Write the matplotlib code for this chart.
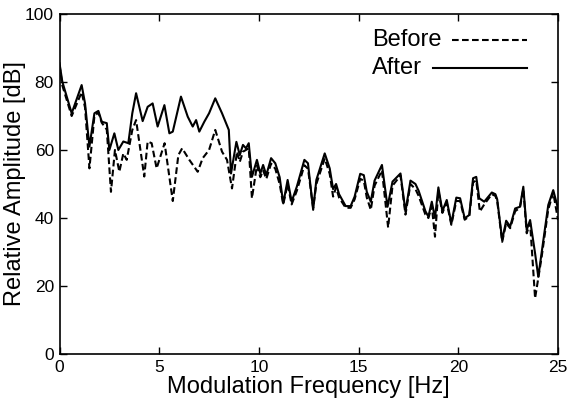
import matplotlib
matplotlib.use("Agg")
import matplotlib.pyplot as plt
from matplotlib.lines import Line2D

plt.rcParams['font.family'] = ['Liberation Sans', 'DejaVu Sans']

# modulation frequency [Hz] / relative amplitude [dB]
freq_after = [0.0, 0.14, 0.61, 1.11, 1.28, 1.50, 1.75, 1.95, 2.12, 2.37, 2.50, 2.75, 2.95,
              3.20, 3.45, 3.65, 3.84, 4.17, 4.42, 4.67, 4.92, 5.26, 5.51, 5.68, 6.09, 6.43,
              6.68, 6.85, 7.01, 7.26, 7.50, 7.81, 8.15, 8.49, 8.60, 8.87, 9.04, 9.20, 9.35,
              9.49, 9.65, 9.90, 10.07, 10.21, 10.37, 10.61, 10.82, 11.04, 11.22, 11.44,
              11.64, 11.90, 12.28, 12.46, 12.72, 12.88, 13.30, 13.55, 13.72, 13.87, 14.02,
              14.35, 14.60, 14.80, 15.08, 15.26, 15.41, 15.61, 15.80, 16.17, 16.45, 16.70,
              17.10, 17.35, 17.60, 17.85, 18.01, 18.35, 18.50, 18.67, 18.83, 19.00, 19.20,
              19.42, 19.65, 19.90, 20.09, 20.32, 20.55, 20.74, 20.90, 21.05, 21.30, 21.68,
              21.86, 21.95, 22.20, 22.40, 22.60, 22.85, 23.09, 23.26, 23.43, 23.60, 23.85,
              24.01, 24.51, 24.76, 25.0]
amp_after = [85.5, 80.1, 70.8, 79.1, 73.7, 61.0, 70.8, 71.5, 68.3, 67.9, 60.0, 64.9, 60.0,
             62.5, 62.0, 70.8, 76.7, 68.5, 72.7, 73.7, 66.9, 73.2, 64.9, 65.4, 75.7, 69.8,
             66.9, 68.8, 65.4, 68.3, 70.8, 75.2, 70.8, 65.9, 53.1, 62.4, 58.5, 61.5, 60.5,
             62.0, 52.1, 57.1, 53.1, 55.6, 52.6, 57.6, 56.1, 52.0, 44.3, 51.2,
             44.8, 49.2, 57.1, 56.1, 42.4, 51.2, 59.0, 54.6, 48.5, 50.0, 47.0,
             43.5, 43.5, 46.3, 53.0, 52.6, 47.7, 44.8, 51.0, 55.6, 43.3, 50.7,
             53.1, 41.9, 51.0, 50.0, 48.0, 42.0, 40.4, 44.8, 40.0, 49.0, 42.0,
             45.3, 38.4, 46.0, 45.8, 39.9, 40.9, 51.7, 52.1, 45.8, 44.8, 47.5,
             47.0, 45.5, 33.5, 39.2, 37.5, 42.8, 43.3, 49.2, 36.5, 39.4, 29.6,
             22.7, 43.8, 48.2, 42.8]

freq_before = [0.0, 0.14, 0.61, 1.11, 1.28, 1.50, 1.75, 1.95, 2.12, 2.37, 2.58, 2.78, 3.00,
               3.20, 3.37, 3.65, 3.84, 4.25, 4.42, 4.62, 4.87, 5.27, 5.68, 5.96, 6.15, 6.51,
               6.93, 7.18, 7.50, 7.81, 8.15, 8.40, 8.65, 8.90, 9.04, 9.20, 9.49, 9.65, 9.90,
               10.07, 10.21, 10.37, 10.61, 10.82, 11.04, 11.22, 11.44, 11.64, 11.90, 12.28,
               12.46, 12.72, 12.88, 13.30, 13.55, 13.72, 13.87, 14.02, 14.35, 14.60, 14.80,
               15.08, 15.26, 15.41, 15.61, 15.80, 16.17, 16.48, 16.70, 17.10, 17.35, 17.60,
               17.85, 18.01, 18.35, 18.50, 18.67, 18.83, 19.00, 19.20, 19.42, 19.65, 19.90,
               20.09, 20.32, 20.55, 20.74, 20.90, 21.08, 21.30, 21.68, 21.86, 21.95, 22.20,
               22.40, 22.60, 22.85, 23.09, 23.26, 23.43, 23.60, 23.85, 24.18, 24.51, 24.76,
               25.0]
amp_before = [85.0, 79.0, 70.0, 77.0, 72.5, 54.6, 70.0, 71.0, 68.0, 66.0, 47.7, 60.0, 53.6,
              59.0, 57.1, 65.9, 68.8, 52.2, 62.5, 62.0, 54.6, 62.0, 45.0, 58.5, 60.5, 57.1,
              53.6, 57.6, 60.0, 65.9, 59.5, 57.1, 48.7, 59.5, 56.5, 59.5, 60.5, 45.8, 55.5,
              52.0, 54.0, 51.5, 56.0, 54.5, 50.0, 44.0, 50.0, 44.0, 48.0, 55.5,
              54.5, 43.0, 50.0, 57.5, 53.0, 46.3, 49.0, 46.0, 43.0, 43.0, 45.5,
              51.5, 51.0, 46.0, 42.4, 49.5, 54.0, 37.2, 49.5, 52.5, 41.0, 50.0,
              48.5, 46.5, 41.0, 40.0, 43.5, 34.5, 48.0, 41.5, 44.5, 38.0, 45.0,
              45.0, 39.5, 40.5, 50.5, 51.0, 41.9, 44.0, 47.0, 46.5, 45.0, 33.0,
              38.5, 37.0, 42.0, 43.0, 48.5, 35.5, 38.5, 16.4, 28.6, 42.5, 47.5,
              39.4]

dash = (0, (3.2, 1.6))

fig = plt.figure(figsize=(5.69, 4.0), dpi=100)
ax = fig.add_axes([0.1046, 0.115, 0.8761, 0.85])

ax.plot(freq_before, amp_before, color='black', lw=1.5, linestyle=dash)
ax.plot(freq_after, amp_after, color='black', lw=1.5)

ax.set_xlim(0, 25)
ax.set_ylim(0, 100)
ax.set_xticks([0, 5, 10, 15, 20, 25])
ax.set_yticks([0, 20, 40, 60, 80, 100])
ax.tick_params(direction='in', top=True, right=True, length=5, width=1, labelsize=12.5, pad=4)
for s in ax.spines.values():
    s.set_linewidth(1.2)

ax.set_xlabel('Modulation Frequency [Hz]', fontsize=17, labelpad=1)
ax.set_ylabel('Relative Amplitude [dB]', fontsize=17, labelpad=-1)

# matlab-style legend: labels left aligned, line samples to the right
fig.text(0.654, 0.900, 'Before', fontsize=17, va='center', ha='left')
fig.text(0.654, 0.830, 'After', fontsize=17, va='center', ha='left')
fig.add_artist(Line2D([0.794, 0.926], [0.900, 0.900], color='black', lw=1.5,
                      linestyle=dash, transform=fig.transFigure))
fig.add_artist(Line2D([0.761, 0.926], [0.830, 0.830], color='black', lw=1.5,
                      transform=fig.transFigure))

fig.savefig('out.png', dpi=100)
